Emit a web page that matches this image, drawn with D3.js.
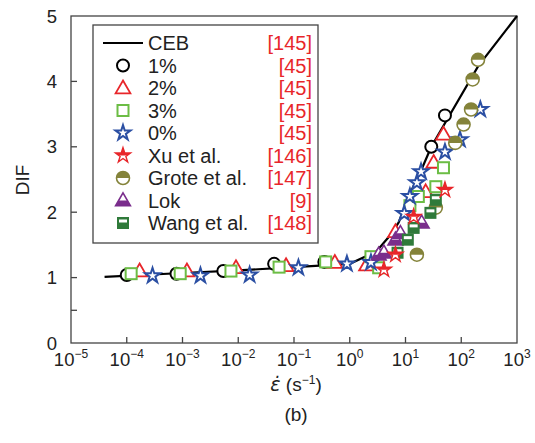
<!DOCTYPE html>
<html>
<head>
<meta charset="utf-8">
<script src="https://cdn.jsdelivr.net/npm/d3@7"></script>
<style>
  body { margin: 0; background: #fff; }
  svg { display: block; font-family: "Liberation Sans", Arial, sans-serif; }
</style>
</head>
<body>
<svg id="chart" width="535" height="443"></svg>
<script>
// Strain rate (s^-1) and DIF pairs for each data set
const ceb = [[4e-5, 1.01], [1e-3, 1.07], [1e-2, 1.11], [0.1, 1.16], [1, 1.21], [3, 1.40], [5, 1.62], [7.5, 1.84], [12, 2.28], [20, 2.68], [29, 3.0], [200, 4.23], [1000, 5.0]];
const pct1 = [[1.0e-4, 1.04], [7.8e-4, 1.06], [5.4e-3, 1.10], [0.044, 1.21], [0.35, 1.24], [29, 3.0], [51, 3.48]];
const pct2 = [[1.7e-4, 1.10], [1.2e-3, 1.10], [9.1e-3, 1.15], [0.072, 1.18], [0.54, 1.23], [2.0, 1.19], [6.6, 1.70], [23, 2.31], [32, 2.76], [48, 3.19]];
const pct3 = [[1.2e-4, 1.06], [9.1e-4, 1.06], [7.4e-3, 1.10], [0.054, 1.16], [0.37, 1.24], [2.4, 1.32], [3.3, 1.15], [12, 2.1], [17, 2.24], [35, 2.39], [48, 2.68]];
const pct0 = [[2.9e-4, 1.03], [2.1e-3, 1.03], [0.016, 1.04], [0.12, 1.15], [0.89, 1.21], [2.4, 1.23], [9.5, 1.98], [12, 2.24], [16, 2.45], [19, 2.62], [51, 2.92], [95, 3.11], [220, 3.57]];
const xu = [[4.1, 1.12], [6.6, 1.35], [14, 1.93], [51, 2.34]];
const grote = [[16, 1.35], [35, 2.07], [78, 3.06], [110, 3.34], [150, 3.57], [160, 4.03], [200, 4.33]];
const lok = [[3.3, 1.35], [4.1, 1.38], [6.6, 1.58], [8.1, 1.68], [19.5, 1.84]];
const wang = [[7.2, 1.38], [11, 1.58], [14, 1.76], [28, 1.99], [35, 2.19]];

const xExponents = [-5, -4, -3, -2, -1, 0, 1, 2, 3];
const yTicks = [0, 1, 2, 3, 4, 5];
const yMinorTicks = [0.5];

const legendNames = ["CEB", "1%", "2%", "3%", "0%", "Xu et al.", "Grote et al.", "Lok", "Wang et al."];
const legendRefs = ["[145]", "[45]", "[45]", "[45]", "[45]", "[146]", "[147]", "[9]", "[148]"];

const RED = "#e8262a", GREEN = "#6cbd45", BLUE = "#2b4fa3", OLIVE = "#84833a", PURPLE = "#7a2d8c", DKGREEN = "#2f7a3a";

const svg = d3.select("#chart");
const plotL = 71, plotR = 517, plotT = 16, plotB = 343;
const x = d3.scaleLog().domain([1e-5, 1e3]).range([plotL, plotR]);
const y = d3.scaleLinear().domain([0, 5]).range([plotB, plotT]);

// clip paths for half-filled markers (local marker coordinates)
const defs = svg.append("defs");
defs.append("clipPath").attr("id", "topHalf").append("rect").attr("x", -20).attr("y", -20).attr("width", 40).attr("height", 20);
defs.append("clipPath").attr("id", "lowerPart").append("rect").attr("x", -20).attr("y", -1).attr("width", 40).attr("height", 20);

const sym = (type, size) => d3.symbol().type(type).size(size)();

// marker drawing functions, each draws into a group centred on the point
const markers = {
  circle: g => g.append("circle").attr("r", 6).attr("fill", "#fff").attr("stroke", "#000").attr("stroke-width", 2),
  tri: g => g.append("path").attr("d", sym(d3.symbolTriangle, 95)).attr("transform", "translate(0,1)")
              .attr("fill", "#fff").attr("stroke", RED).attr("stroke-width", 1.8),
  square: g => g.append("rect").attr("x", -5.5).attr("y", -5.5).attr("width", 11).attr("height", 11)
              .attr("fill", "#fff").attr("stroke", GREEN).attr("stroke-width", 2),
  star: g => g.append("path").attr("d", sym(d3.symbolStar, 70)).attr("fill", "#fff").attr("stroke", BLUE).attr("stroke-width", 2),
  xu: g => {
    const d = sym(d3.symbolStar, 70);
    g.append("path").attr("d", d).attr("fill", "#fff").attr("stroke", RED).attr("stroke-width", 1.4);
    g.append("path").attr("d", d).attr("fill", RED).attr("clip-path", "url(#topHalf)");
  },
  grote: g => {
    g.append("circle").attr("r", 6.5).attr("fill", "#fff").attr("stroke", OLIVE).attr("stroke-width", 1.6);
    g.append("circle").attr("r", 6.5).attr("fill", OLIVE).attr("clip-path", "url(#topHalf)");
  },
  lok: g => {
    const d = sym(d3.symbolTriangle, 95);
    g.append("path").attr("d", d).attr("transform", "translate(0,1)").attr("fill", "#fff").attr("stroke", PURPLE).attr("stroke-width", 1.6);
    g.append("path").attr("d", d).attr("transform", "translate(0,1)").attr("fill", PURPLE).attr("clip-path", "url(#lowerPart)");
  },
  wang: g => {
    g.append("rect").attr("x", -6).attr("y", -6).attr("width", 12).attr("height", 12).attr("fill", DKGREEN);
    g.append("rect").attr("x", -4).attr("y", -3.5).attr("width", 8).attr("height", 3).attr("fill", "#fff");
  }
};

// frame
svg.append("rect").attr("x", plotL).attr("y", plotT).attr("width", plotR - plotL).attr("height", plotB - plotT)
  .attr("fill", "none").attr("stroke", "#444").attr("stroke-width", 1.3);

// x ticks (inward) and labels
const xg = svg.append("g");
xExponents.forEach(e => {
  const px = x(Math.pow(10, e));
  if (e > -5 && e < 3) xg.append("line").attr("x1", px).attr("x2", px).attr("y1", plotB).attr("y2", plotB - 6).attr("stroke", "#444").attr("stroke-width", 1.3);
  const t = xg.append("text").attr("x", px).attr("y", 366).attr("text-anchor", "middle").attr("font-size", 18.5).attr("fill", "#222");
  t.append("tspan").text("10");
  t.append("tspan").attr("dy", -8).attr("font-size", 12).text(e < 0 ? "\u2212" + Math.abs(e) : String(e));
});

// y ticks and labels
const yg = svg.append("g");
yTicks.forEach(v => {
  if (v > 0 && v < 5) yg.append("line").attr("x1", plotL).attr("x2", plotL + 6).attr("y1", y(v)).attr("y2", y(v)).attr("stroke", "#444").attr("stroke-width", 1.3);
  yg.append("text").attr("x", 57).attr("y", y(v) + 6.5).attr("text-anchor", "end").attr("font-size", 18.5).attr("fill", "#222").text(v);
});
yMinorTicks.forEach(v => {
  yg.append("line").attr("x1", plotL).attr("x2", plotL + 6).attr("y1", y(v)).attr("y2", y(v)).attr("stroke", "#444").attr("stroke-width", 1.3);
});

// axis titles
svg.append("text").attr("transform", "translate(29,180) rotate(-90)").attr("text-anchor", "middle")
  .attr("font-size", 19).attr("fill", "#222").text("DIF");
const xt = svg.append("text").attr("x", 296).attr("y", 391).attr("text-anchor", "middle").attr("font-size", 19).attr("fill", "#222");
xt.append("tspan").attr("font-style", "italic").attr("font-family", "DejaVu Sans").text("\u03B5\u0307");
xt.append("tspan").text(" (s");
xt.append("tspan").attr("dy", -7).attr("font-size", 12).text("\u22121");
xt.append("tspan").attr("dy", 7).text(")");
svg.append("text").attr("x", 296).attr("y", 421).attr("text-anchor", "middle").attr("font-size", 19).attr("fill", "#222").text("(b)");

// CEB curve
const line = d3.line().x(d => x(d[0])).y(d => y(d[1]));
svg.append("path").datum(ceb).attr("d", line).attr("fill", "none").attr("stroke", "#000").attr("stroke-width", 2.2);

// data markers
const series = [
  [pct1, "circle"], [pct2, "tri"], [pct3, "square"], [pct0, "star"],
  [grote, "grote"], [lok, "lok"], [wang, "wang"], [xu, "xu"]
];
series.forEach(([data, kind]) => {
  svg.append("g").selectAll("g").data(data).join("g")
    .attr("transform", d => `translate(${x(d[0])},${y(d[1])})`)
    .each(function () { markers[kind](d3.select(this)); });
});

// legend
const lg = svg.append("g");
lg.append("rect").attr("x", 93).attr("y", 25).attr("width", 225).attr("height", 218)
  .attr("fill", "#fff").attr("stroke", "#444").attr("stroke-width", 1.3);
const kinds = [null, "circle", "tri", "square", "star", "xu", "grote", "lok", "wang"];
legendNames.forEach((name, i) => {
  const cy = 43 + i * 22.5;
  if (i === 0) {
    lg.append("line").attr("x1", 103).attr("x2", 143).attr("y1", cy).attr("y2", cy).attr("stroke", "#000").attr("stroke-width", 2.2);
  } else {
    const g = lg.append("g").attr("transform", `translate(123,${cy})`);
    markers[kinds[i]](g);
  }
  lg.append("text").attr("x", 148).attr("y", cy + 7).attr("font-size", 20).attr("fill", "#222").text(name);
  lg.append("text").attr("x", 312).attr("y", cy + 7).attr("text-anchor", "end").attr("font-size", 20).attr("fill", RED).text(legendRefs[i]);
});
</script>
</body>
</html>
